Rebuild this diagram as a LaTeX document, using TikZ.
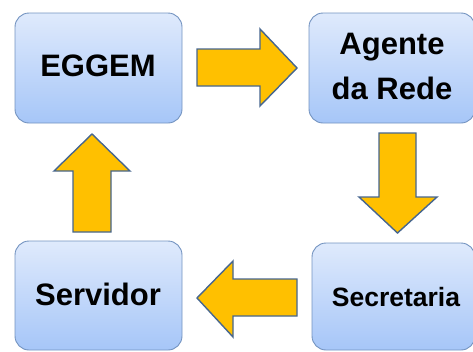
\documentclass[tikz,border=0pt]{standalone}
\usepackage{fontspec}
\setmainfont{Liberation Sans}
\definecolor{boxtop}{HTML}{DFEAFC}
\definecolor{boxbot}{HTML}{A6C6F8}
\definecolor{boxborder}{HTML}{7393C0}
\definecolor{arrowfill}{HTML}{FFC000}
\definecolor{arrowborder}{HTML}{46668F}
\begin{document}
\begin{tikzpicture}[x=1pt,y=-1pt,
  box/.style={draw=boxborder, line width=0.9pt, rounded corners=14pt,
    top color=boxtop, bottom color=boxbot, inner sep=0pt},
  blk/.style={draw=arrowborder, line width=1.4pt, fill=arrowfill, line join=miter},
  lbl/.style={font=\bfseries\fontsize{31}{45}\selectfont, text=black, align=center, inner sep=0pt},
  lblsmall/.style={font=\bfseries\fontsize{26.5}{30}\selectfont, text=black, inner sep=0pt}]
\useasboundingbox (0,0) rectangle (473,351);
% boxes
\node[box, minimum width=167pt, minimum height=110pt] (eggem) at (98.5,68) {};
\node[box, minimum width=166pt, minimum height=110pt] (agente) at (392,68) {};
\node[box, minimum width=167pt, minimum height=109pt] (servidor) at (98.5,295.5) {};
\node[box, minimum width=163pt, minimum height=107pt] (secretaria) at (393.5,296.5) {};
% labels
\node[lbl] (teggem) at (98,65.5) {EGGEM};
\node[lbl] (tagente) at (392,66.5) {Agente\\da Rede};
\node[lbl] (tservidor) at (98,294) {Servidor};
\node[lblsmall] (tsecretaria) at (396,297) {Secretaria};
% block arrows
\draw[blk] (197,49) -- (260,49) -- (260,29) -- (297,68) -- (260,106) -- (260,86) -- (197,86) -- cycle;
\draw[blk] (379,133) -- (416,133) -- (416,197) -- (437,197) -- (397.5,233) -- (359,197) -- (379,197) -- cycle;
\draw[blk] (297,279) -- (297,316) -- (233,316) -- (233,337) -- (197,298) -- (233,261) -- (233,279) -- cycle;
\draw[blk] (73,232) -- (111,232) -- (111,171) -- (130,171) -- (92,134) -- (54,171) -- (73,171) -- cycle;
\end{tikzpicture}
\end{document}
